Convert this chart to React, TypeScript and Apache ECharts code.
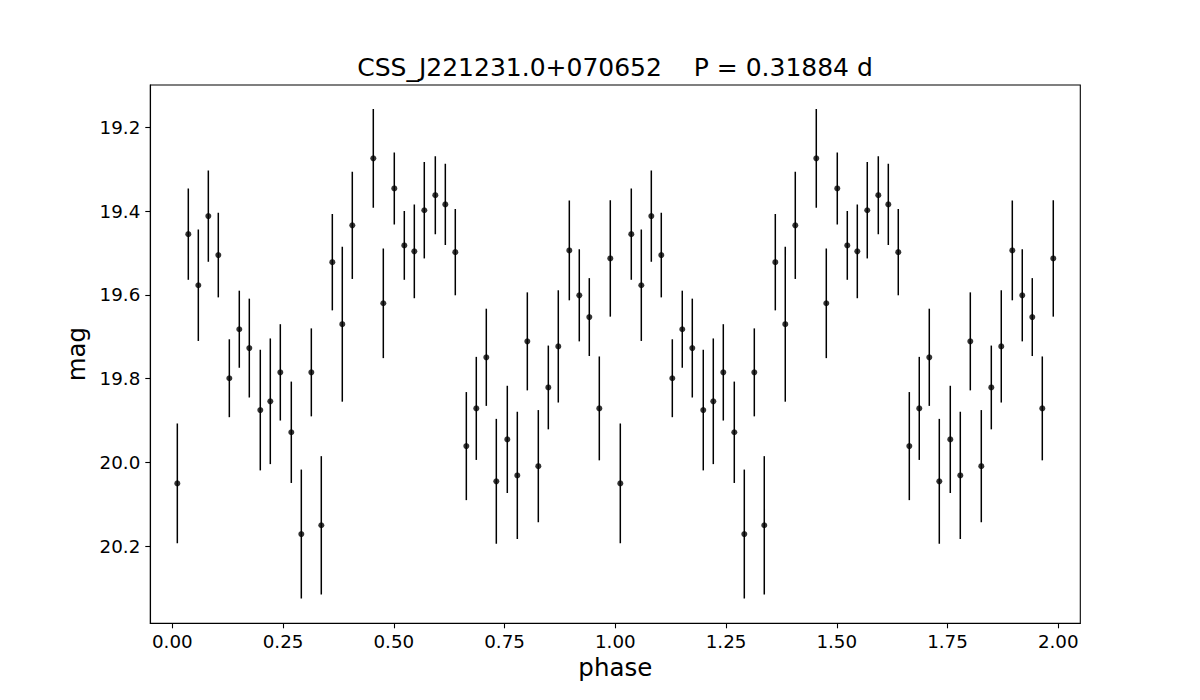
import React, { useEffect, useRef } from "react";
import * as echarts from "echarts";

// Phase-folded light curve (one cycle; repeated at phase + 1 as in the plot)
const phase = [
  0.0113, 0.0361, 0.0587, 0.0813, 0.1038, 0.1287, 0.1512, 0.1738, 0.1986, 0.2212,
  0.2438, 0.2686, 0.2912, 0.3138, 0.3363, 0.3612, 0.3837, 0.4063, 0.4537, 0.4763,
  0.5011, 0.5237, 0.5463, 0.5688, 0.5937, 0.6163, 0.6388, 0.6637, 0.6862, 0.7088,
  0.7314, 0.7562, 0.7788, 0.8014, 0.8262, 0.8488, 0.8713, 0.8962, 0.9187, 0.9413,
  0.9639, 0.9887,
];
const mag = [
  20.05, 19.455, 19.577, 19.412, 19.505, 19.799, 19.682, 19.727, 19.875, 19.854,
  19.785, 19.928, 20.171, 19.785, 20.15, 19.522, 19.67, 19.434, 19.274, 19.62,
  19.346, 19.482, 19.496, 19.398, 19.362, 19.384, 19.498, 19.961, 19.871, 19.749,
  20.045, 19.945, 20.031, 19.711, 20.009, 19.821, 19.723, 19.494, 19.601, 19.653,
  19.871, 19.513,
];
const magErr = [
  0.143, 0.109, 0.133, 0.109, 0.101, 0.093, 0.092, 0.118, 0.144, 0.15,
  0.115, 0.121, 0.154, 0.105, 0.165, 0.115, 0.185, 0.128, 0.118, 0.131,
  0.086, 0.082, 0.112, 0.115, 0.093, 0.097, 0.103, 0.129, 0.123, 0.116,
  0.149, 0.128, 0.152, 0.117, 0.134, 0.1, 0.134, 0.119, 0.11, 0.093,
  0.124, 0.139,
];
const cycles = [0, 1];
const xTicks = [0, 0.25, 0.5, 0.75, 1.0, 1.25, 1.5, 1.75, 2.0];
const yTicks = [19.2, 19.4, 19.6, 19.8, 20.0, 20.2];
const titleText = "CSS_J221231.0+070652    P = 0.31884 d";

const FONT = "DejaVu Sans";

export default function App() {
  const ref = useRef<HTMLDivElement>(null);
  useEffect(() => {
    if (!ref.current) return;
    const chart = echarts.init(ref.current, null, { renderer: "svg" });
    const rows: number[][] = [];
    cycles.forEach((c) => {
      phase.forEach((p, i) => rows.push([p + c, mag[i], magErr[i]]));
    });
    chart.setOption({
      animation: false,
      backgroundColor: "#ffffff",
      title: {
        text: titleText,
        left: 610,
        textAlign: "center",
        top: 50,
        textStyle: { fontFamily: FONT, fontSize: 25, fontWeight: "normal", color: "#000" },
      },
      grid: {
        left: 150.3,
        right: 119.7,
        top: 85,
        bottom: 76.7,
        show: true,
        borderColor: "#000",
        borderWidth: 1.1,
        backgroundColor: "#fff",
      },
      xAxis: {
        type: "value",
        min: -0.0497,
        max: 2.0497,
        name: "phase",
        nameLocation: "middle",
        nameGap: 31,
        nameTextStyle: { fontFamily: FONT, fontSize: 24.5, color: "#000" },
        axisLine: { show: true, onZero: false, lineStyle: { color: "#000", width: 1.1 } },
        axisTick: { show: true, length: 5, customValues: xTicks, lineStyle: { color: "#000", width: 1.1 } },
        axisLabel: {
          customValues: xTicks,
          margin: 9,
          fontFamily: FONT,
          fontSize: 18.3,
          color: "#000",
          formatter: (v: number) => v.toFixed(2),
        },
        splitLine: { show: false },
      },
      yAxis: {
        type: "value",
        inverse: true,
        min: 19.099,
        max: 20.384,
        name: "mag",
        nameLocation: "middle",
        nameGap: 54,
        nameTextStyle: { fontFamily: FONT, fontSize: 24.5, color: "#000" },
        axisLine: { show: true, onZero: false, lineStyle: { color: "#000", width: 1.1 } },
        axisTick: { show: true, length: 5, customValues: yTicks, lineStyle: { color: "#000", width: 1.1 } },
        axisLabel: {
          customValues: yTicks,
          margin: 10,
          fontFamily: FONT,
          fontSize: 18.3,
          color: "#000",
          formatter: (v: number) => v.toFixed(1),
        },
        splitLine: { show: false },
      },
      series: [
        {
          type: "custom",
          data: rows,
          encode: { x: 0, y: 1 },
          clip: true,
          renderItem: (params: any, api: any) => {
            const x = api.value(0);
            const y = api.value(1);
            const e = api.value(2);
            const p1 = api.coord([x, y - e]);
            const p2 = api.coord([x, y + e]);
            return {
              type: "line",
              shape: { x1: p1[0], y1: p1[1], x2: p2[0], y2: p2[1] },
              style: { stroke: "#000", lineWidth: 1.5 },
            };
          },
          z: 2,
        },
        {
          type: "scatter",
          data: rows.map((r) => [r[0], r[1]]),
          symbol: "circle",
          symbolSize: 6,
          itemStyle: { color: "#000" },
          z: 3,
        },
      ],
    });
    return () => chart.dispose();
  }, []);
  return (
    <div
      ref={ref}
      style={{ position: "absolute", left: 0, top: 0, width: 1200, height: 700, background: "#fff" }}
    />
  );
}
